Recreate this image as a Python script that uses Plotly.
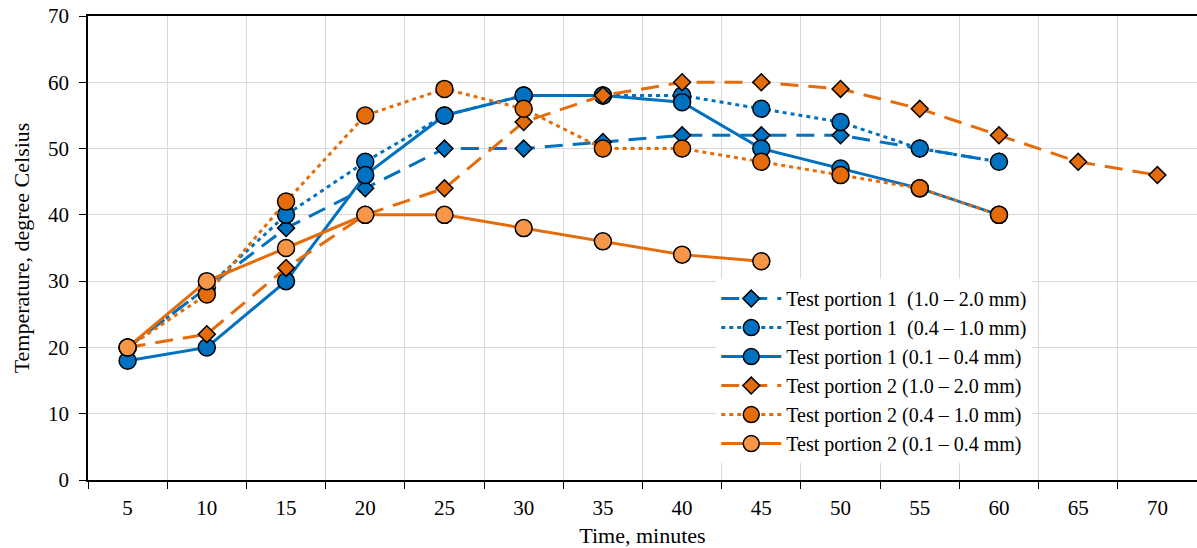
import plotly.graph_objects as go

categories = ["5", "10", "15", "20", "25", "30", "35", "40", "45", "50", "55", "60", "65", "70"]

tp1_coarse_x = ["5", "10", "15", "20", "25", "30", "35", "40", "45", "50", "55", "60"]
tp1_coarse_y = [20, 29, 38, 44, 50, 50, 51, 52, 52, 52, 50, 48]

tp1_mid_x = ["5", "10", "15", "20", "25", "30", "35", "40", "45", "50", "55", "60"]
tp1_mid_y = [20, 29, 40, 48, 55, 58, 58, 58, 56, 54, 50, 48]

tp1_fine_x = ["5", "10", "15", "20", "25", "30", "35", "40", "45", "50", "55", "60"]
tp1_fine_y = [18, 20, 30, 46, 55, 58, 58, 57, 50, 47, 44, 40]

tp2_coarse_x = ["5", "10", "15", "20", "25", "30", "35", "40", "45", "50", "55", "60", "65", "70"]
tp2_coarse_y = [20, 22, 32, 40, 44, 54, 58, 60, 60, 59, 56, 52, 48, 46]

tp2_mid_x = ["5", "10", "15", "20", "25", "30", "35", "40", "45", "50", "55", "60"]
tp2_mid_y = [20, 28, 42, 55, 59, 56, 50, 50, 48, 46, 44, 40]

tp2_fine_x = ["5", "10", "15", "20", "25", "30", "35", "40", "45"]
tp2_fine_y = [20, 30, 35, 40, 40, 38, 36, 34, 33]

BLUE = "#0070C0"
ORANGE = "#E46C0A"
LIGHT = "#F79646"
NB = "\u00a0"

series = [
    (f"Test portion 1{NB}{NB}(1.0 – 2.0 mm)", tp1_coarse_x, tp1_coarse_y, BLUE, BLUE, "diamond", "18px,10px", 13),
    (f"Test portion 1{NB}{NB}(0.4 – 1.0 mm)", tp1_mid_x, tp1_mid_y, BLUE, BLUE, "circle", "4px,4px", 17),
    ("Test portion 1 (0.1 – 0.4 mm)", tp1_fine_x, tp1_fine_y, BLUE, BLUE, "circle", "solid", 17),
    ("Test portion 2 (1.0 – 2.0 mm)", tp2_coarse_x, tp2_coarse_y, ORANGE, ORANGE, "diamond", "18px,10px", 13),
    ("Test portion 2 (0.4 – 1.0 mm)", tp2_mid_x, tp2_mid_y, ORANGE, ORANGE, "circle", "4px,4px", 17),
    ("Test portion 2 (0.1 – 0.4 mm)", tp2_fine_x, tp2_fine_y, ORANGE, LIGHT, "circle", "solid", 17),
]

fig = go.Figure()
for name, xs, ys, lc, fc, sym, dash, size in series:
    fig.add_trace(go.Scatter(
        x=xs, y=ys, name=name, mode="lines+markers",
        line=dict(color=lc, width=3, dash=dash),
        marker=dict(symbol=sym, size=size, color=fc, line=dict(color="black", width=1.5)),
    ))

font = "Liberation Serif, Times New Roman, serif"
fig.update_layout(
    width=1197, height=548,
    margin=dict(l=88, r=0, t=16, b=68),
    plot_bgcolor="white", paper_bgcolor="white",
    font=dict(family=font, size=21, color="black"),
    legend=dict(x=0.5665, y=0.433, xanchor="left", yanchor="top",
                bgcolor="white", font=dict(family=font, size=20),
                tracegroupgap=0, itemwidth=60),
    xaxis=dict(
        type="category", categoryorder="array", categoryarray=categories,
        range=[-0.5, 13.5], automargin=False,
        tickson="boundaries", ticks="outside", ticklen=7, tickcolor="black",
        ticklabelstandoff=8, ticklabeloverflow="allow",
        showgrid=True, gridcolor="#D9D9D9", gridwidth=1,
        showline=True, linecolor="black", linewidth=1.5, mirror=True,
        title=dict(text="Time, minutes", font=dict(size=22), standoff=20),
        tickfont=dict(size=21),
    ),
    yaxis=dict(
        range=[0, 70], dtick=10, ticks="outside", ticklen=7, tickcolor="black",
        ticklabelstandoff=6, ticklabeloverflow="allow",
        showgrid=True, gridcolor="#D9D9D9", gridwidth=1,
        showline=True, linecolor="black", linewidth=1.5,
        zeroline=False, automargin=False,
        title=dict(text="Temperature, degree Celsius", font=dict(size=22), standoff=12),
        tickfont=dict(size=21),
    ),
)

# remove the default page margin so the figure sits at the window's top-left corner
fig.write_html("out.html", config={"displayModeBar": False},
               post_script="document.body.style.margin='0';")
